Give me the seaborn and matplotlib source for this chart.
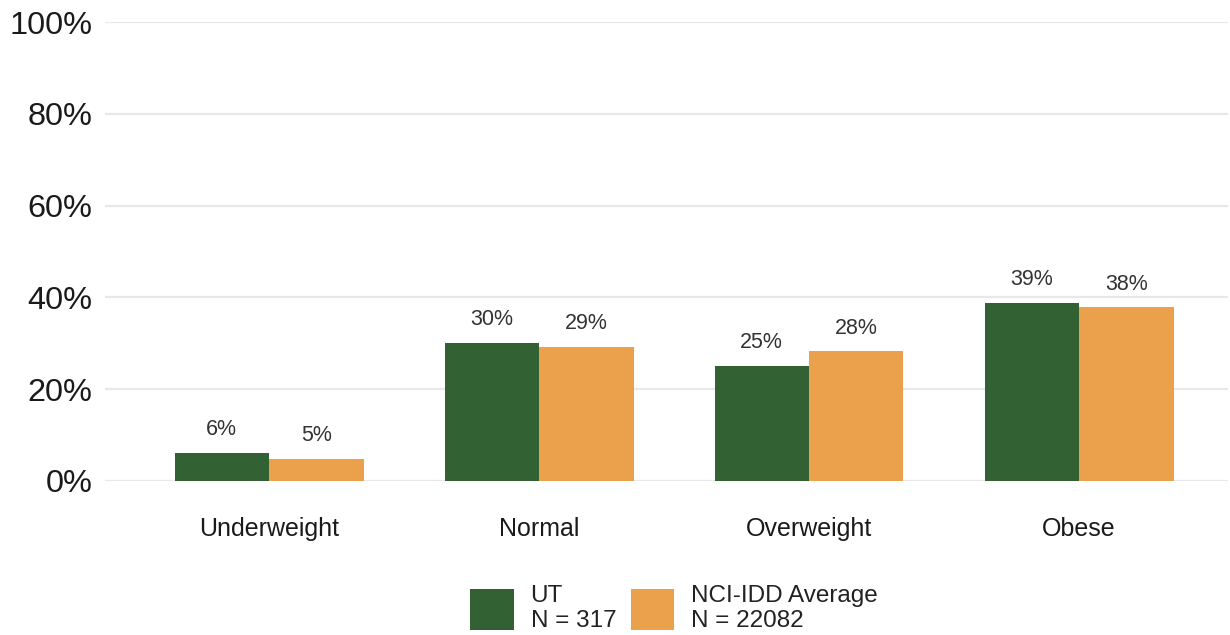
import matplotlib
matplotlib.use("Agg")
import matplotlib.pyplot as plt
import seaborn as sns
import pandas as pd

# BMI category distribution
categories = ["Underweight", "Normal", "Overweight", "Obese"]
groups = ["UT\nN = 317", "NCI-IDD Average\nN = 22082"]
ut_values = [6.2, 30.1, 25.1, 38.8]
nci_values = [4.9, 29.2, 28.3, 37.9]
yticks = [0, 20, 40, 60, 80, 100]
colors = ["#326134", "#EBA04C"]

df = pd.DataFrame({
    "category": categories * 2,
    "group": [groups[0]] * len(categories) + [groups[1]] * len(categories),
    "value": ut_values + nci_values,
})

sns.set_theme(style="white")
plt.rcParams["font.family"] = ["Liberation Sans", "DejaVu Sans"]

fig = plt.figure(figsize=(12.3, 6.35), dpi=100)
ax = fig.add_axes([105 / 1230, 1 - 481 / 635, (1228 - 105) / 1230, (481 - 22) / 635])

sns.barplot(data=df, x="category", y="value", hue="group", order=categories,
            hue_order=groups, palette=colors, width=0.7, gap=0, saturation=1,
            ax=ax, legend=False)

ax.set_ylim(0, 100)
ax.set_xlim((105 - 269) / 270, (1228 - 269) / 270)
ax.set_yticks(yticks)
ax.set_yticklabels([f"{t}%" for t in yticks], fontsize=23.4, color="#1a1a1a")
ax.tick_params(axis="y", length=0, pad=9)
ax.tick_params(axis="x", length=0, pad=26, labelsize=18, labelcolor="#1a1a1a")
ax.set_xlabel("")
ax.set_ylabel("")
ax.yaxis.grid(True, color="#e8e8e8", linewidth=1.6)
ax.set_axisbelow(True)
for s in ax.spines.values():
    s.set_visible(False)

for cont in ax.containers:
    for bar in cont:
        bar.set_edgecolor("none")
    ax.bar_label(cont, labels=[f"{round(b.get_height()):d}%" for b in cont],
                 padding=9, fontsize=15.5, color="#333333")

handles = [plt.Rectangle((0, 0), 1, 1, facecolor=c, edgecolor="none") for c in colors]
fig.legend(handles, groups, loc="lower center", bbox_to_anchor=(674 / 1230, -8 / 635),
           ncol=2, frameon=False, fontsize=17.5, handlelength=1.8, handleheight=2.2,
           handletextpad=0.7, columnspacing=0.6, labelspacing=0.2,
           labelcolor="#222222", borderaxespad=0.05)

fig.savefig("out.png", dpi=100, facecolor="white")
